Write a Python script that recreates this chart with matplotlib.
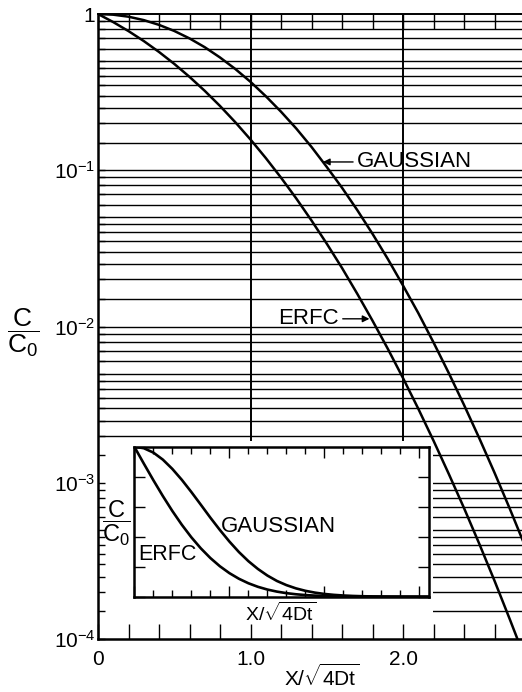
import matplotlib
matplotlib.use("Agg")
import matplotlib.pyplot as plt
from matplotlib.ticker import FixedLocator, MultipleLocator, NullFormatter, FixedFormatter
from matplotlib.patches import Rectangle

plt.rcParams['font.family'] = ['Liberation Sans', 'DejaVu Sans']
plt.rcParams['mathtext.fontset'] = 'custom'
plt.rcParams['mathtext.rm'] = 'Liberation Sans'
plt.rcParams['mathtext.it'] = 'Liberation Sans'
plt.rcParams['mathtext.bf'] = 'Liberation Sans:bold'
plt.rcParams['mathtext.sf'] = 'Liberation Sans'
plt.rcParams['axes.unicode_minus'] = False

# ---- data ----
x_main = [0.0, 0.1, 0.2, 0.3, 0.4, 0.5, 0.6, 0.7, 0.8, 0.9, 1.0, 1.1, 1.2, 1.3, 1.4,
          1.5, 1.6, 1.7, 1.8, 1.9, 2.0, 2.1, 2.2, 2.3, 2.4, 2.5, 2.6, 2.7, 2.8]
gaussian_main = [1.0, 0.990, 0.961, 0.914, 0.852, 0.779, 0.698, 0.613, 0.527, 0.445,
                 0.368, 0.298, 0.237, 0.185, 0.141, 0.105, 0.0773, 0.0556, 0.0392,
                 0.0271, 0.0183, 0.0122, 0.00791, 0.00504, 0.00315, 0.00193,
                 0.00116, 0.000683, 0.000394]
erfc_main = [1.0, 0.8875, 0.7773, 0.6714, 0.5716, 0.4795, 0.3961, 0.3222, 0.2579,
             0.2031, 0.1573, 0.1198, 0.0897, 0.0660, 0.0477, 0.0339, 0.0237, 0.0162,
             0.0109, 0.00721, 0.00468, 0.00298, 0.00186, 0.00114, 0.000689,
             0.000407, 0.000236, 0.000134, 0.0000750]

x_inset = x_main + [2.9, 3.0, 3.1]
gaussian_inset = gaussian_main + [0.000223, 0.000123, 0.0000665]
erfc_inset = erfc_main + [0.0000411, 0.0000221, 0.0000117]

y_tick_values = [1e-4, 1e-3, 1e-2, 1e-1, 1.0]
y_tick_labels = [r'$10^{-4}$', r'$10^{-3}$', r'$10^{-2}$', r'$10^{-1}$', '1']
x_tick_values = [0.0, 1.0, 2.0]
x_tick_labels = ['0', '1.0', '2.0']
grid_mults = [1.5, 2, 2.5, 3, 3.5, 4, 4.5, 5, 6, 7, 8, 9]
decades = [1e-4, 1e-3, 1e-2, 1e-1]

# ---- figure ----
W, H = 522, 692
fig = plt.figure(figsize=(W / 100, H / 100), dpi=100)
L, R, T, B = 98, 522, 14, 639
ax = fig.add_axes([L / W, 1 - B / H, (R - L) / W, (B - T) / H])
ax.set_yscale('log')
ax.set_ylim(1e-4, 1.0)
ax.set_xlim(0, (R - L) / 152.5)

grid_vals = list(decades) + [m * d for d in decades for m in grid_mults]
for g in grid_vals:
    ax.axhline(g, color='black', lw=1.0, zorder=1)
for xv in [1.0, 2.0]:
    ax.axvline(xv, color='black', lw=1.4, zorder=1)

# white area behind the inset
mask_right = (433 - L) / (R - L)
mask_top = (B - 441) / (B - T)
ax.add_patch(Rectangle((0, 0), mask_right, mask_top, transform=ax.transAxes,
                       facecolor='white', edgecolor='none', zorder=1.5))

ax.plot(x_main, gaussian_main, color='black', lw=1.8, zorder=3, clip_on=True)
ax.plot(x_main, erfc_main, color='black', lw=1.8, zorder=3, clip_on=True)

ax.yaxis.set_major_locator(FixedLocator(y_tick_values))
ax.yaxis.set_major_formatter(FixedFormatter(y_tick_labels))
ax.yaxis.set_minor_locator(FixedLocator([m * d for d in decades for m in grid_mults]))
ax.yaxis.set_minor_formatter(NullFormatter())
ax.xaxis.set_major_locator(FixedLocator(x_tick_values))
ax.xaxis.set_major_formatter(FixedFormatter(x_tick_labels))
ax.xaxis.set_minor_locator(MultipleLocator(0.2))

ax.tick_params(axis='y', which='both', direction='in', length=5, width=1.0,
               labelsize=15, pad=2, left=True, right=False)
ax.tick_params(axis='x', which='both', direction='in', length=11, width=1.0,
               labelsize=15, pad=8, top=True, bottom=True)
ax.set_axisbelow(False)

for s in ['left', 'bottom']:
    ax.spines[s].set_linewidth(1.8)
ax.spines['top'].set_linewidth(1.4)
ax.spines['right'].set_visible(False)

fig.text(322 / W, 1 - 677 / H, r'$X/\sqrt{4Dt}$', fontsize=15,
         ha='center', va='center')

fig.text(23 / W, 1 - 333 / H, r'$\dfrac{C}{C_0}$', fontsize=19,
         ha='center', va='center')

ax.annotate('GAUSSIAN', xy=(1.475, 0.113), xytext=(1.70, 0.113),
            fontsize=16, va='center', ha='left', zorder=4,
            arrowprops=dict(arrowstyle='-|>', color='black', lw=1.0,
                            mutation_scale=10, shrinkA=1, shrinkB=0))
ax.annotate('ERFC', xy=(1.78, 0.0112), xytext=(1.18, 0.0112),
            fontsize=16, va='center', ha='left', zorder=4,
            arrowprops=dict(arrowstyle='-|>', color='black', lw=1.0,
                            mutation_scale=10, shrinkA=1, shrinkB=0))

# ---- inset ----
iL, iR, iT, iB = 134.3, 429, 446.7, 596.7
ins = fig.add_axes([iL / W, 1 - iB / H, (iR - iL) / W, (iB - iT) / H])
ins.set_xlim(0, 3.1)
ins.set_ylim(0, 1.0)
ins.plot(x_inset, gaussian_inset, color='black', lw=1.9)
ins.plot(x_inset, erfc_inset, color='black', lw=1.9)
ins.xaxis.set_major_locator(MultipleLocator(1.0))
ins.xaxis.set_minor_locator(MultipleLocator(0.2))
ins.yaxis.set_major_locator(MultipleLocator(0.2))
ins.tick_params(which='both', direction='in', top=True, right=True,
                labelbottom=False, labelleft=False, width=1.0)
ins.tick_params(which='major', length=8)
ins.tick_params(which='minor', length=5)
for s in ins.spines.values():
    s.set_linewidth(1.8)
ins.text(0.915, 0.47, 'GAUSSIAN', fontsize=16, ha='left', va='center')
ins.text(0.04, 0.28, 'ERFC', fontsize=15.5, ha='left', va='center')
fig.text(281 / W, 1 - 613 / H, r'$X/\sqrt{4Dt}$', fontsize=14, ha='center', va='center')
fig.text(116 / W, 1 - 523 / H, r'$\dfrac{C}{C_0}$', fontsize=17, ha='center', va='center')

fig.savefig('out.png', dpi=100)
